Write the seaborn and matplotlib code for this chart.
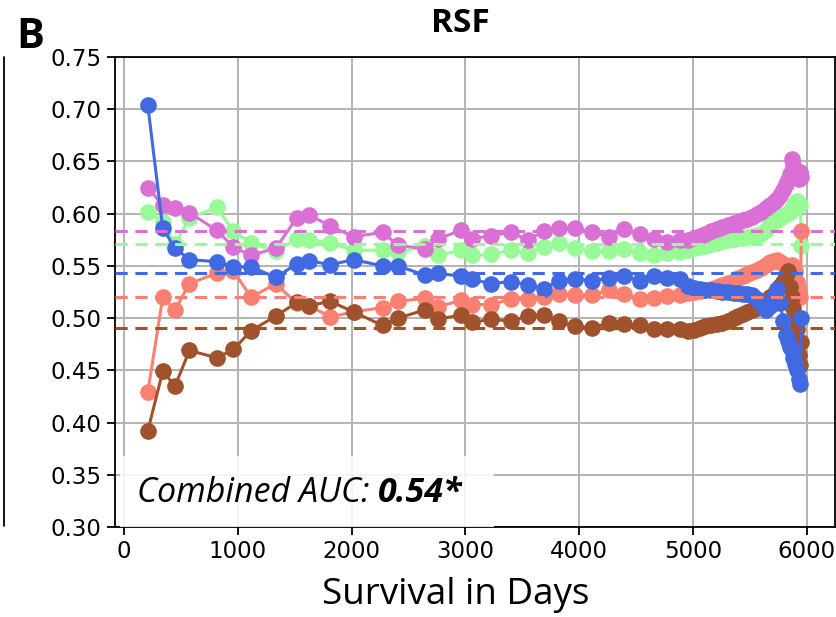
import matplotlib
matplotlib.use("Agg")
import matplotlib.pyplot as plt
from matplotlib.patches import Rectangle
from matplotlib.lines import Line2D
import numpy as np
import pandas as pd
import seaborn as sns

# time points (days)
days = [208, 340, 448, 574, 815, 961, 1117, 1334, 1519, 1627, 1812, 2017, 2272, 2408,
        2647, 2759, 2964, 3063, 3228, 3400, 3547, 3688, 3820, 3967, 4113, 4260, 4397,
        4538, 4655, 4772, 4890,
        4960, 5010, 5060, 5110, 5160, 5210, 5260, 5310, 5360, 5400, 5440, 5480, 5520,
        5560, 5600, 5640, 5680, 5710, 5740, 5770, 5795, 5815, 5835, 5855, 5870, 5885,
        5900, 5915, 5930, 5945, 5955]

auc_blue = [0.704, 0.586, 0.567, 0.556, 0.554, 0.549, 0.549, 0.539, 0.552, 0.555, 0.551,
            0.556, 0.550, 0.550, 0.541, 0.543, 0.540, 0.537, 0.533, 0.535, 0.532, 0.528,
            0.536, 0.537, 0.536, 0.538, 0.540, 0.536, 0.540, 0.538, 0.537,
            0.531, 0.529, 0.528, 0.527, 0.527, 0.526, 0.525, 0.525, 0.524, 0.524, 0.523,
            0.523, 0.522, 0.518, 0.514, 0.508, 0.512, 0.520, 0.528, 0.514, 0.497, 0.484,
            0.478, 0.472, 0.469, 0.462, 0.456, 0.450, 0.442, 0.437, 0.500]

auc_orchid = [0.625, 0.608, 0.605, 0.601, 0.584, 0.568, 0.560, 0.567, 0.596, 0.599, 0.588,
              0.578, 0.582, 0.570, 0.566, 0.576, 0.584, 0.576, 0.579, 0.582, 0.575, 0.583,
              0.586, 0.586, 0.582, 0.578, 0.585, 0.581, 0.576, 0.573, 0.575,
              0.575, 0.577, 0.579, 0.581, 0.583, 0.585, 0.587, 0.589, 0.591, 0.592, 0.594,
              0.595, 0.597, 0.600, 0.602, 0.605, 0.608, 0.611, 0.614, 0.618, 0.623, 0.628,
              0.632, 0.638, 0.652, 0.647, 0.643, 0.638, 0.633, 0.640, 0.635]

auc_green = [0.602, 0.592, 0.571, 0.596, 0.606, 0.583, 0.572, 0.564, 0.576, 0.575, 0.572,
             0.565, 0.565, 0.563, 0.569, 0.560, 0.565, 0.560, 0.561, 0.565, 0.562, 0.568,
             0.572, 0.567, 0.564, 0.564, 0.566, 0.562, 0.560, 0.562, 0.563,
             0.565, 0.567, 0.568, 0.569, 0.571, 0.572, 0.574, 0.575, 0.576, 0.577, 0.577,
             0.578, 0.579, 0.580, 0.581, 0.584, 0.590, 0.592, 0.594, 0.596, 0.598, 0.600,
             0.601, 0.602, 0.604, 0.607, 0.610, 0.612, 0.610, 0.608, 0.569]

auc_salmon = [0.429, 0.520, 0.508, 0.533, 0.543, 0.545, 0.520, 0.533, 0.514, 0.512, 0.501,
              0.506, 0.510, 0.516, 0.519, 0.511, 0.517, 0.513, 0.513, 0.518, 0.518, 0.520,
              0.523, 0.522, 0.522, 0.527, 0.523, 0.518, 0.519, 0.521, 0.522,
              0.524, 0.525, 0.526, 0.527, 0.528, 0.530, 0.532, 0.534, 0.536, 0.538, 0.540,
              0.542, 0.544, 0.546, 0.548, 0.551, 0.554, 0.555, 0.556, 0.554, 0.552, 0.549,
              0.548, 0.550, 0.551, 0.549, 0.545, 0.535, 0.527, 0.520, 0.583]

auc_brown = [0.392, 0.449, 0.435, 0.469, 0.462, 0.470, 0.488, 0.502, 0.515, 0.512, 0.516,
             0.506, 0.493, 0.500, 0.508, 0.499, 0.503, 0.496, 0.499, 0.497, 0.502, 0.503,
             0.497, 0.492, 0.491, 0.495, 0.494, 0.493, 0.490, 0.490, 0.490,
             0.488, 0.489, 0.491, 0.492, 0.493, 0.494, 0.495, 0.497, 0.500, 0.502, 0.504,
             0.506, 0.508, 0.510, 0.513, 0.516, 0.520, 0.523, 0.527, 0.531, 0.535, 0.540,
             0.545, 0.530, 0.520, 0.510, 0.500, 0.490, 0.465, 0.455, 0.477]

groups = ["green", "orchid", "salmon", "brown", "blue"]
colors = {"green": "palegreen", "orchid": "orchid", "salmon": "salmon",
          "brown": "sienna", "blue": "royalblue"}
mean_auc = {"orchid": 0.583, "green": 0.571, "blue": 0.543, "salmon": 0.520, "brown": 0.491}

series = {"green": auc_green, "orchid": auc_orchid, "salmon": auc_salmon,
          "brown": auc_brown, "blue": auc_blue}
df = pd.concat([pd.DataFrame({"day": days, "auc": series[g], "group": g}) for g in groups],
               ignore_index=True)

sns.set_style("ticks", {"axes.grid": True, "grid.color": "#b3b3b3",
                        "axes.edgecolor": "black", "text.color": "black",
                        "xtick.color": "black", "ytick.color": "black",
                        "axes.labelcolor": "black"})

fig = plt.figure(figsize=(8.36, 6.17), dpi=100)
ax = fig.add_axes([115 / 836, 90 / 617, 720 / 836, 470 / 617])

sns.lineplot(data=df, x="day", y="auc", hue="group", hue_order=groups,
             palette=colors, marker="o", markersize=12, markeredgewidth=0,
             linewidth=2.2, legend=False, sort=False, ax=ax)

for g in groups:
    ax.axhline(mean_auc[g], color=colors[g], linestyle="--", linewidth=2.2,
               dashes=(4, 2.5), zorder=5)

ax.set_xlim(-80, 6250)
ax.set_ylim(0.30, 0.75)
ax.set_xticks(np.arange(0, 6001, 1000))
ax.set_yticks(np.arange(0.30, 0.751, 0.05))
ax.set_yticklabels([f"{v:.2f}" for v in np.arange(0.30, 0.751, 0.05)])
ax.grid(True, linewidth=1.4, color="#b3b3b3")
ax.tick_params(labelsize=16.5, length=6, width=1.3, color="black",
               labelcolor="black", direction="out")
for s in ax.spines.values():
    s.set_linewidth(1.3)
    s.set_color("black")
ax.set_xlabel("Survival in Days", fontsize=26.5, family="Open Sans", color="black")
ax.xaxis.set_label_coords((456 - 115) / 720, -(595 - 527) / 470)
ax.xaxis.label.set_va("center")
ax.set_ylabel("")

# annotation box
ax.add_patch(Rectangle((0.007, 0.0), 0.52, 0.152, transform=ax.transAxes,
                       facecolor="white", edgecolor="none", alpha=0.85, zorder=6))
t1 = ax.text(0.03, 0.072, "Combined AUC: ", transform=ax.transAxes, fontsize=24.5,
             family="Open Sans", style="italic", va="center", zorder=7, color="black")
ax.annotate("0.54*", xy=(1, 0), xycoords=t1, xytext=(0, 0), textcoords="offset points",
            fontsize=24.5, family="Open Sans", style="italic", weight="bold",
            va="bottom", zorder=7, color="black")

fig.text(460 / 836, 1 - 24 / 617, "RSF", fontsize=24, family="Open Sans",
         weight="bold", ha="center", va="center", color="black")
fig.text(30 / 836, 1 - 37 / 617, "B", fontsize=30, family="Open Sans",
         weight="bold", ha="center", va="center", color="black")

# edge of the neighbouring panel
fig.add_artist(Line2D([4 / 836, 4 / 836], [1 - 57 / 617, 1 - 526 / 617],
                      color="black", linewidth=1.3))

fig.savefig("out.png", dpi=100)
